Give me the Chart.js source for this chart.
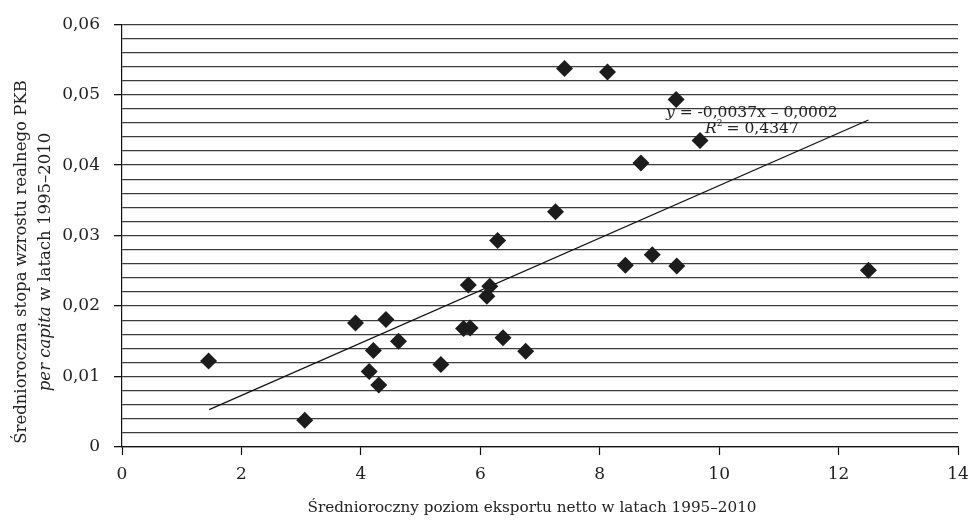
<!DOCTYPE html>
<html>
<head>
<meta charset="utf-8">
<script src="https://cdn.jsdelivr.net/npm/chart.js@4/dist/chart.umd.min.js"></script>
<style>
    body { margin: 0; background: #fff; }
    #wrap { width: 970px; height: 524px; }
</style>
</head>
<body>
<div id="wrap"><canvas id="chart"></canvas></div>
<script>
// Średnioroczny poziom eksportu netto (x) vs stopa wzrostu PKB per capita (y)
const exportX = [7.41, 8.13, 8.69, 7.26, 6.29, 9.28, 9.68, 8.88, 9.29, 12.50,
    8.43, 5.80, 6.16, 6.11, 3.91, 4.42, 5.72, 5.83, 6.38, 4.63,
    4.21, 6.76, 5.34, 4.14, 4.30, 1.45, 3.06];
const growthY = [0.0537, 0.0532, 0.0403, 0.0334, 0.0293, 0.0493, 0.0435, 0.0273, 0.0257, 0.0251,
    0.0258, 0.0230, 0.0228, 0.0214, 0.0176, 0.0181, 0.0168, 0.0169, 0.0155, 0.0150,
    0.0137, 0.0136, 0.0117, 0.0107, 0.0088, 0.0122, 0.0038];

// linia trendu (końce)
const trendX = [1.46, 12.50];
const trendY = [0.0053, 0.0464];

const xTicks = [0, 2, 4, 6, 8, 10, 12, 14];
const yLabels = ['0', '0,01', '0,02', '0,03', '0,04', '0,05', '0,06'];

const serif = '"DejaVu Serif", serif';

const isMajor = v => Math.abs(v * 100 - Math.round(v * 100)) < 1e-6;

const textPlugin = {
    id: 'texts',
    afterDraw(chart) {
        const ctx = chart.ctx;
        ctx.save();
        ctx.fillStyle = '#222';
        ctx.textBaseline = 'alphabetic';

        // tytuł osi X
        ctx.font = '15.2px ' + serif;
        ctx.textAlign = 'center';
        ctx.fillText('Średnioroczny poziom eksportu netto w latach 1995–2010', 532, 512);

        // tytuł osi Y (dwie linie, obrócone)
        ctx.translate(0, 262);
        ctx.rotate(-Math.PI / 2);
        ctx.font = '16.5px ' + serif;
        ctx.fillText('Średnioroczna stopa wzrostu realnego PKB', 0, 26);

        const it = 'per capita';
        const rest = ' w latach 1995–2010';
        ctx.font = 'italic 16.5px ' + serif;
        const w1 = ctx.measureText(it).width;
        ctx.font = '16.5px ' + serif;
        const w2 = ctx.measureText(rest).width;
        let x0 = -(w1 + w2) / 2;
        ctx.textAlign = 'left';
        ctx.font = 'italic 16.5px ' + serif;
        ctx.fillText(it, x0, 50);
        ctx.font = '16.5px ' + serif;
        ctx.fillText(rest, x0 + w1, 50);
        ctx.restore();

        // równanie trendu
        ctx.save();
        ctx.fillStyle = '#222';
        ctx.textAlign = 'left';
        ctx.font = 'italic 15.5px ' + serif;
        ctx.fillText('y', 666, 117);
        let wy = ctx.measureText('y').width;
        ctx.font = '15.5px ' + serif;
        ctx.fillText(' = -0,0037x – 0,0002', 666 + wy, 117);

        ctx.font = 'italic 15.5px ' + serif;
        ctx.fillText('R', 705, 133);
        let wr = ctx.measureText('R').width;
        ctx.font = '9px ' + serif;
        ctx.fillText('2', 705 + wr, 126);
        ctx.font = '15.5px ' + serif;
        ctx.fillText(' = 0,4347', 705 + wr + 5, 133);
        ctx.restore();
    }
};

new Chart(document.getElementById('chart'), {
    type: 'scatter',
    data: {
        datasets: [{
            data: exportX.map((x, i) => ({ x, y: growthY[i] })),
            pointStyle: 'rectRot',
            pointRadius: 8.5,
            backgroundColor: '#1c1c1c',
            borderWidth: 0,
        }, {
            type: 'line',
            data: trendX.map((x, i) => ({ x, y: trendY[i] })),
            borderColor: '#111',
            borderWidth: 1.2,
            pointRadius: 0,
            fill: false,
        }],
    },
    options: {
        responsive: true,
        maintainAspectRatio: false,
        animation: false,
        layout: { padding: { left: 0, top: 23, right: 12, bottom: 0 } },
        plugins: {
            legend: { display: false },
            tooltip: { enabled: false },
        },
        scales: {
            x: {
                type: 'linear',
                min: 0,
                max: 14,
                afterFit: s => { s.height = 77; s.paddingRight = 0; s.paddingLeft = 0; },
                afterBuildTicks: s => { s.ticks = xTicks.map(v => ({ value: v })); },
                border: { display: true, color: '#111', width: 1.2 },
                grid: { drawOnChartArea: false, drawTicks: true, tickLength: 8, tickColor: '#111', tickWidth: 1.2 },
                ticks: {
                    padding: 9,
                    color: '#222',
                    font: { family: serif, size: 17 },
                    maxRotation: 0,
                },
            },
            y: {
                type: 'linear',
                min: 0,
                max: 0.06,
                afterFit: s => { s.width = 122; },
                border: { display: true, color: '#111', width: 1.2 },
                grid: {
                    color: '#3c3c3c',
                    lineWidth: 1.3,
                    tickLength: 8,
                    tickColor: c => isMajor(c.tick.value) ? '#111' : 'rgba(0,0,0,0)',
                },
                ticks: {
                    stepSize: 0.002,
                    autoSkip: false,
                    padding: 14,
                    color: '#222',
                    font: { family: serif, size: 17 },
                    callback: v => isMajor(v) ? yLabels[Math.round(v * 100)] : '',
                },
            },
        },
    },
    plugins: [textPlugin],
});
</script>
</body>
</html>
